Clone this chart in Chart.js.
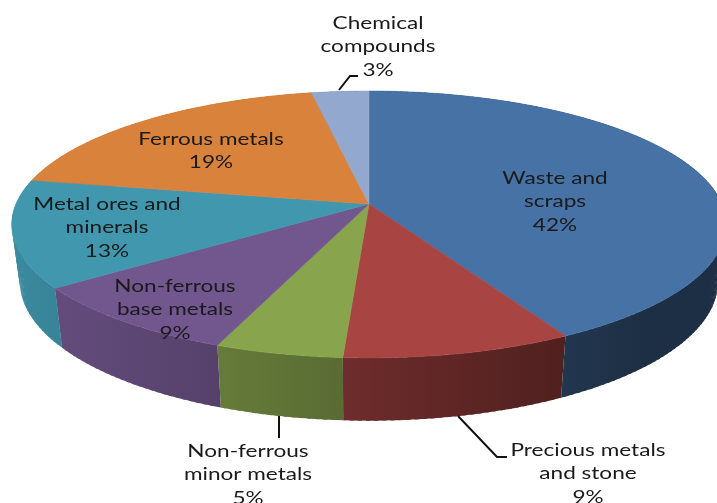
<!DOCTYPE html>
<html>
<head>
<meta charset="utf-8">
<title>Pie</title>
<style>
  html, body { margin: 0; padding: 0; background: #fff; overflow: hidden; }
  canvas { display: block; }
</style>
<script src="https://cdn.jsdelivr.net/npm/chart.js@4/dist/chart.umd.min.js"></script>
</head>
<body>
<canvas id="pieCanvas" width="717" height="503"></canvas>
<script>
// ------------------- Data -------------------//
var categories = ['Waste and scraps', 'Precious metals and stone', 'Non-ferrous minor metals',
  'Non-ferrous base metals', 'Metal ores and minerals', 'Ferrous metals', 'Chemical compounds'];
var shares = [42, 9, 5, 9, 13, 19, 3];
var sliceColors = ['#4672a6', '#a84543', '#88a54d', '#71578e', '#4097ae', '#d9823c', '#93a8cf'];

// how each label wraps, and where it sits on the page
var labelLines = [
  ['Waste and', 'scraps'],
  ['Precious metals', 'and stone'],
  ['Non-ferrous', 'minor metals'],
  ['Non-ferrous', 'base metals'],
  ['Metal ores and', 'minerals'],
  ['Ferrous metals'],
  ['Chemical', 'compounds']
];
var labelCentres = [[555, 178], [588, 450], [248, 451], [175, 286], [107, 204], [211, 139], [378, 23]];
var leaderLines = [
  [[458, 416], [497, 457], [507, 457]],
  [[279, 416], [279, 438]],
  [[339, 90], [350, 76], [358, 76]]
];

// ------------------- Perspective disc -------------------//
var tilt = 0.1536;
var topDisc = { cx: 369, cy: 204, rx: 353, ry: 130.3 };
var bottomDisc = { cx: 369, cy: 260, rx: 345, ry: 136 };
// the reference text is stretched sideways
var textStretch = 1.29;

function project(disc, angle) {
  var x = Math.cos(angle), y = Math.sin(angle), w = 1 - tilt * y;
  return [disc.cx + disc.rx * x / w, disc.cy + disc.ry * y / w];
}

function shade(hex, factor) {
  var n = parseInt(hex.slice(1), 16);
  return 'rgb(' + Math.round((n >> 16) * factor) + ',' +
    Math.round(((n >> 8) & 255) * factor) + ',' + Math.round((n & 255) * factor) + ')';
}

function traceRim(ctx, disc, from, to) {
  var steps = Math.ceil(Math.abs(to - from) / 0.01);
  for (var s = 0; s <= steps; s++) {
    var p = project(disc, from + (to - from) * s / steps);
    ctx.lineTo(p[0], p[1]);
  }
}

function drawWalls(ctx, arcs) {
  arcs.forEach(function(arc, i) {
    // darker towards the right hand side, like the lit 3D pie
    var grad = ctx.createLinearGradient(topDisc.cx - topDisc.rx, 0, topDisc.cx + topDisc.rx, 0);
    grad.addColorStop(0, shade(sliceColors[i], 0.91));
    grad.addColorStop(0.5, shade(sliceColors[i], 0.63));
    grad.addColorStop(0.89, shade(sliceColors[i], 0.41));
    grad.addColorStop(1, shade(sliceColors[i], 0.41));
    ctx.fillStyle = grad;

    // short overlapping pieces, one path would cancel out where the wall turns round
    var step = 0.02;
    for (var a = arc.startAngle; a < arc.endAngle; a += step) {
      var end = Math.min(arc.endAngle, a + step * 1.5);
      var p0 = project(topDisc, a), p1 = project(topDisc, end);
      var q1 = project(bottomDisc, end), q0 = project(bottomDisc, a);
      ctx.beginPath();
      ctx.moveTo(p0[0], p0[1]);
      ctx.lineTo(p1[0], p1[1]);
      ctx.lineTo(q1[0], q1[1]);
      ctx.lineTo(q0[0], q0[1]);
      ctx.closePath();
      ctx.fill();
    }
  });
}

function drawFaces(ctx, arcs) {
  arcs.forEach(function(arc, i) {
    ctx.beginPath();
    ctx.moveTo(topDisc.cx, topDisc.cy);
    traceRim(ctx, topDisc, arc.startAngle, arc.endAngle);
    ctx.closePath();
    ctx.fillStyle = sliceColors[i];
    ctx.strokeStyle = sliceColors[i];
    ctx.lineWidth = 0.6;
    ctx.fill();
    ctx.stroke();
  });
}

function drawLabels(ctx) {
  ctx.strokeStyle = '#111';
  ctx.lineWidth = 2;
  leaderLines.forEach(function(line) {
    ctx.beginPath();
    line.forEach(function(p, k) {
      if (k === 0) { ctx.moveTo(p[0], p[1]); } else { ctx.lineTo(p[0], p[1]); }
    });
    ctx.stroke();
  });

  ctx.fillStyle = '#1a1a1a';
  ctx.font = '17.5px Lato';
  ctx.textAlign = 'center';
  ctx.textBaseline = 'middle';
  labelLines.forEach(function(lines, i) {
    var all = lines.concat([shares[i] + '%']);
    all.forEach(function(text, k) {
      ctx.save();
      ctx.translate(labelCentres[i][0], labelCentres[i][1] + k * 23.5);
      ctx.scale(textStretch, 1);
      ctx.fillText(text, 0, 0);
      ctx.restore();
    });
  });
}

var pie3d = {
  id: 'pie3d',
  beforeDatasetDraw: function(chart, args) {
    var ctx = chart.ctx;
    var arcs = chart.getDatasetMeta(args.index).data;
    ctx.save();
    drawWalls(ctx, arcs);
    drawFaces(ctx, arcs);
    drawLabels(ctx);
    ctx.restore();
    return false;
  }
};

// ------------------- Chart -------------------//
var ctx = document.getElementById('pieCanvas');
var myChart = new Chart(ctx, {
  type: 'pie',
  data: {
    labels: categories,
    datasets: [{ data: shares, backgroundColor: sliceColors, borderWidth: 0 }]
  },
  options: {
    responsive: false,
    animation: false,
    plugins: {
      legend: { display: false },
      tooltip: { enabled: false }
    }
  },
  plugins: [pie3d]
});
</script>
</body>
</html>
